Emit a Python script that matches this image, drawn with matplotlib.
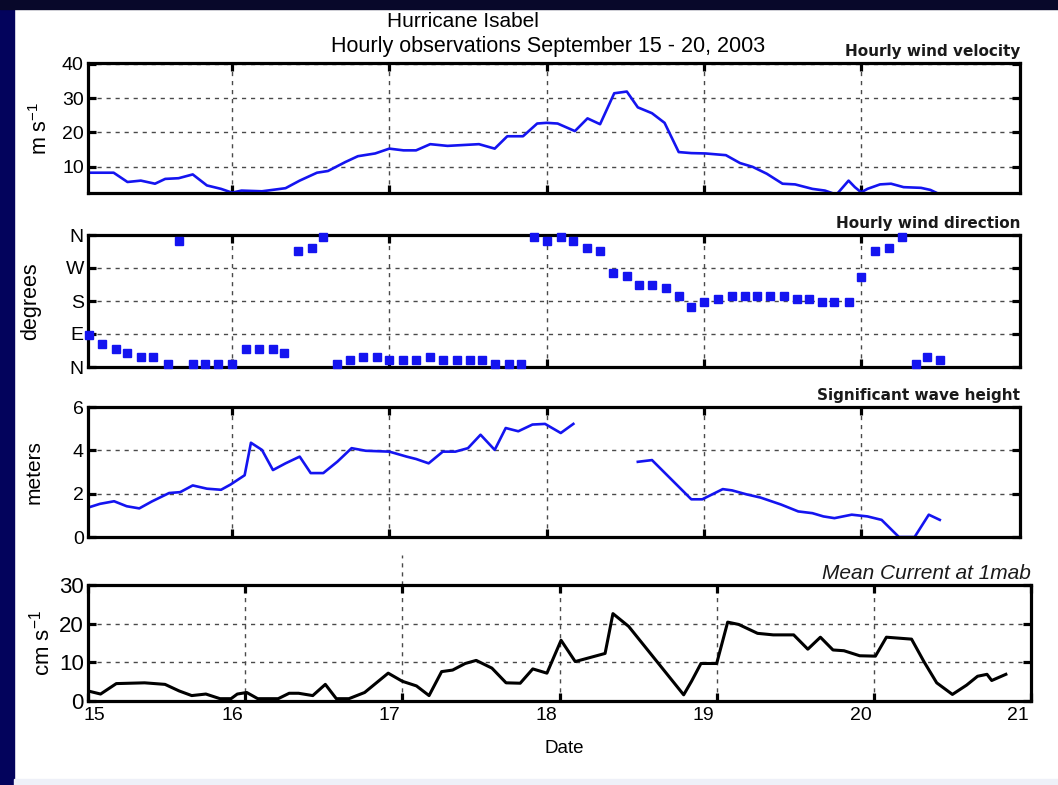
import numpy as np
import matplotlib
matplotlib.use("Agg")
import matplotlib.pyplot as plt
from matplotlib.patches import Rectangle
from matplotlib.transforms import ScaledTranslation

plt.rcParams['font.family'] = ['Liberation Sans', 'DejaVu Sans']
plt.rcParams['mathtext.default'] = 'regular'

# ---------------- data ----------------
wind_day = [15.094, 15.247, 15.335, 15.42, 15.51, 15.575, 15.66, 15.75, 15.84, 15.93,
            16.0, 16.06, 16.19, 16.34, 16.43, 16.54, 16.61, 16.72, 16.80, 16.91,
            17.0, 17.09, 17.17, 17.26, 17.37, 17.57, 17.67, 17.75, 17.85, 17.94,
            18.0, 18.07, 18.18, 18.26, 18.34, 18.43, 18.51, 18.58, 18.67, 18.75,
            18.84, 18.92, 19.01, 19.14, 19.23, 19.31, 19.40, 19.50, 19.58, 19.69,
            19.77, 19.82, 19.85, 19.92, 19.96, 20.0, 20.04, 20.12, 20.19, 20.27,
            20.38, 20.44, 20.50]
wind_speed = [8.3, 8.3, 5.6, 6.0, 5.1, 6.5, 6.7, 7.8, 4.6, 3.6,
              2.5, 3.1, 2.9, 3.8, 6.0, 8.3, 8.8, 11.4, 13.1, 13.9,
              15.3, 14.8, 14.8, 16.6, 16.1, 16.6, 15.3, 18.9, 18.9, 22.6,
              22.8, 22.6, 20.4, 24.1, 22.4, 31.4, 31.9, 27.3, 25.6, 22.8,
              14.3, 14.0, 13.9, 13.4, 11.1, 10.0, 8.0, 5.1, 4.9, 3.6,
              3.1, 2.3, 2.3, 6.0, 4.1, 2.6, 3.6, 4.9, 5.1, 4.1,
              3.9, 3.3, 2.0]

dir_day = [15.09, 15.17, 15.26, 15.33, 15.42, 15.50, 15.59, 15.66, 15.75, 15.83,
           15.91, 16.0, 16.09, 16.17, 16.26, 16.33, 16.42, 16.51, 16.58, 16.67,
           16.75, 16.83, 16.92, 17.0, 17.09, 17.17, 17.26, 17.34, 17.43, 17.51,
           17.59, 17.67, 17.76, 17.84, 17.92, 18.0, 18.09, 18.17, 18.26, 18.34,
           18.42, 18.51, 18.59, 18.67, 18.76, 18.84, 18.92, 19.0, 19.09, 19.18,
           19.26, 19.34, 19.42, 19.51, 19.59, 19.67, 19.75, 19.83, 19.92, 20.0,
           20.09, 20.18, 20.26, 20.35, 20.42, 20.50]
dir_deg = [88, 62, 50, 38, 28, 28, 8, 344, 8, 8,
           8, 8, 48, 48, 48, 37, 316, 325, 355, 8,
           18, 28, 28, 18, 18, 18, 28, 18, 18, 18,
           18, 8, 8, 8, 355, 343, 355, 343, 325, 316,
           256, 248, 225, 225, 215, 195, 165, 176, 185, 195,
           195, 195, 195, 195, 185, 185, 176, 176, 176, 245,
           316, 325, 355, 8, 28, 18]

wave_day = [15.09, 15.16, 15.25, 15.33, 15.41, 15.49, 15.60, 15.67, 15.75, 15.84,
            15.93, 15.99, 16.08, 16.12, 16.19, 16.26, 16.34, 16.43, 16.50, 16.58,
            16.67, 16.76, 16.85, 17.0, 17.11, 17.17, 17.25, 17.34, 17.42, 17.50,
            17.58, 17.67, 17.74, 17.82, 17.91, 17.99, 18.09, 18.17,
            18.40,
            18.58, 18.67, 18.92, 18.99, 19.12, 19.18, 19.27, 19.36, 19.49, 19.60,
            19.69, 19.76, 19.83, 19.94, 20.04, 20.13, 20.24, 20.34, 20.43, 20.50]
wave_hs = [1.37, 1.53, 1.65, 1.42, 1.32, 1.64, 2.03, 2.07, 2.38, 2.23,
           2.18, 2.42, 2.85, 4.35, 4.02, 3.09, 3.40, 3.71, 2.95, 2.95,
           3.48, 4.10, 3.98, 3.94, 3.71, 3.60, 3.40, 3.94, 3.94, 4.10,
           4.72, 4.02, 5.03, 4.88, 5.19, 5.22, 4.80, 5.22,
           np.nan,
           3.47, 3.55, 1.74, 1.74, 2.21, 2.15, 1.97, 1.82, 1.50, 1.18,
           1.10, 0.95, 0.87, 1.03, 0.95, 0.79, 0.0, 0.0, 1.03, 0.79]

cur_day = [15.0, 15.08, 15.18, 15.36, 15.49, 15.58, 15.66, 15.75, 15.84, 15.91,
           15.95, 16.01, 16.08, 16.21, 16.28, 16.34, 16.43, 16.51, 16.58, 16.66,
           16.76, 16.91, 17.0, 17.09, 17.17, 17.25, 17.32, 17.40, 17.47, 17.57,
           17.66, 17.75, 17.83, 17.92, 18.01, 18.10, 18.29, 18.34, 18.44, 18.79,
           18.84, 18.90, 19.00, 19.07, 19.14, 19.26, 19.36, 19.49, 19.58, 19.66,
           19.74, 19.81, 19.91, 20.01, 20.08, 20.24, 20.32, 20.40, 20.50, 20.59,
           20.66, 20.72, 20.75, 20.84]
cur_speed = [2.6, 1.8, 4.5, 4.7, 4.3, 2.6, 1.4, 1.8, 0.6, 0.6,
             1.8, 2.2, 0.6, 0.6, 2.0, 2.0, 1.4, 4.3, 0.6, 0.6,
             2.2, 7.2, 5.1, 3.9, 1.4, 7.6, 8.0, 9.7, 10.5, 8.5,
             4.7, 4.6, 8.3, 7.2, 15.7, 10.2, 12.3, 22.6, 19.3, 1.6,
             5.1, 9.7, 9.7, 20.4, 19.8, 17.5, 17.1, 17.1, 13.4, 16.5,
             13.2, 13.0, 11.7, 11.6, 16.5, 16.0, 10.1, 4.7, 1.7, 4.1,
             6.4, 6.9, 5.3, 6.9]

days = [15, 16, 17, 18, 19, 20, 21]
day_labels = ['15', '16', '17', '18', '19', '20', '21']
dir_ticks = [0, 90, 180, 270, 360]
dir_labels = ['N', 'E', 'S', 'W', 'N']

# ---------------- figure ----------------
W, H = 1058, 785
fig = plt.figure(figsize=(W / 100, H / 100), dpi=100)
fig.patch.set_facecolor('white')
fig.patches.append(Rectangle((0, 0), 14 / W, 1, transform=fig.transFigure,
                             color='#03035c', zorder=-5))
fig.patches.append(Rectangle((0, 1 - 9 / H), 1, 9 / H, transform=fig.transFigure,
                             color='#08082a', zorder=-5))
fig.patches.append(Rectangle((14 / W, 0), 1, 6 / H, transform=fig.transFigure,
                             color='#eef0f8', zorder=-5))


def box(l, r, t, b):
    return [l / W, 1 - b / H, (r - l) / W, (b - t) / H]


ax1 = fig.add_axes(box(88, 1020, 63, 193))
ax2 = fig.add_axes(box(88, 1020, 235, 367))
ax3 = fig.add_axes(box(88, 1020, 407, 537))
ax4 = fig.add_axes(box(88, 1031, 585, 701))

grid_kw = dict(color='#4a4a4a', linestyle=(0, (3, 3.5)), linewidth=1.0)
sub_kw = dict(ha='right', va='bottom', fontsize=11, fontweight='bold',
              color='#1a1a1a', family=['DejaVu Sans'])

for ax in (ax1, ax2, ax3, ax4):
    for s in ax.spines.values():
        s.set_linewidth(2.3)
        s.set_color('black')
    ax.tick_params(direction='in', length=6, width=2.3, top=True, right=True,
                   labelsize=14, pad=3, colors='black')
    ax.grid(True, **grid_kw)
    ax.set_axisbelow(True)

blue = '#1414f0'

# panel 1: wind speed
ax1.plot(wind_day, wind_speed, color=blue, lw=1.9)
ax1.set_xlim(15.084, 21.01)
ax1.set_ylim(2.4, 40.2)
ax1.set_yticks([10, 20, 30, 40])
ax1.set_xticks(days[1:-1])
ax1.set_xticklabels([])
ax1.set_ylabel(r'm s$^{-1}$', fontsize=15.5)
ax1.yaxis.set_label_coords(-0.039, 0.5)
ax1.text(1.0, 1.03, 'Hourly wind velocity', transform=ax1.transAxes, **sub_kw)

# panel 2: wind direction
ax2.plot(dir_day, dir_deg, linestyle='none', marker='s', markersize=6.3,
         color=blue, clip_on=False, zorder=5)
ax2.set_xlim(15.084, 21.01)
ax2.set_ylim(0, 360)
ax2.set_yticks(dir_ticks)
ax2.set_yticklabels(dir_labels)
ax2.set_xticks(days[1:-1])
ax2.set_xticklabels([])
ax2.set_ylabel('degrees', fontsize=15.5)
ax2.yaxis.set_label_coords(-0.050, 0.5)
ax2.text(1.0, 1.03, 'Hourly wind direction', transform=ax2.transAxes, **sub_kw)

# panel 3: wave height
ax3.plot(wave_day, wave_hs, color=blue, lw=1.9)
ax3.set_xlim(15.084, 21.01)
ax3.set_ylim(0, 6)
ax3.set_yticks([0, 2, 4, 6])
ax3.set_xticks(days[1:-1])
ax3.set_xticklabels([])
ax3.set_ylabel('meters', fontsize=15)
ax3.yaxis.set_label_coords(-0.048, 0.5)
ax3.text(1.0, 1.03, 'Significant wave height', transform=ax3.transAxes, **sub_kw)

# panel 4: mean current
ax4.plot(cur_day, cur_speed, color='black', lw=2.2)
ax4.set_xlim(15, 21)
ax4.set_ylim(0, 30)
ax4.set_yticks([0, 10, 20, 30])
ax4.set_xticks(days)
ax4.set_xticklabels(day_labels)
ax4.tick_params(axis='y', labelsize=16)
ax4.tick_params(axis='x', labelsize=14, pad=4)
ax4.set_ylabel(r'cm s$^{-1}$', fontsize=16)
ax4.yaxis.set_label_coords(-0.036, 0.5)
ax4.set_xlabel('Date', fontsize=13.5)
ax4.xaxis.set_label_coords(0.505, -0.34)
ax4.text(1.0, 1.02, 'Mean Current at 1mab', transform=ax4.transAxes, ha='right',
         va='bottom', fontsize=15, style='italic', color='#1a1a1a')
ax4.axvline(days[2], ymin=1.0, ymax=1.26, clip_on=False, **grid_kw)
for i, lab in enumerate(ax4.get_xticklabels()):
    dx = 6 / 100 if i == 0 else -13 / 100
    lab.set_transform(lab.get_transform() + ScaledTranslation(dx, 0, fig.dpi_scale_trans))

# titles
fig.text(463 / W, 1 - 27 / H, 'Hurricane Isabel', ha='center', va='baseline', fontsize=15)
fig.text(548 / W, 1 - 52 / H, 'Hourly observations September 15 - 20, 2003',
         ha='center', va='baseline', fontsize=15.5)

fig.savefig('out.png', dpi=100, facecolor=fig.get_facecolor())
